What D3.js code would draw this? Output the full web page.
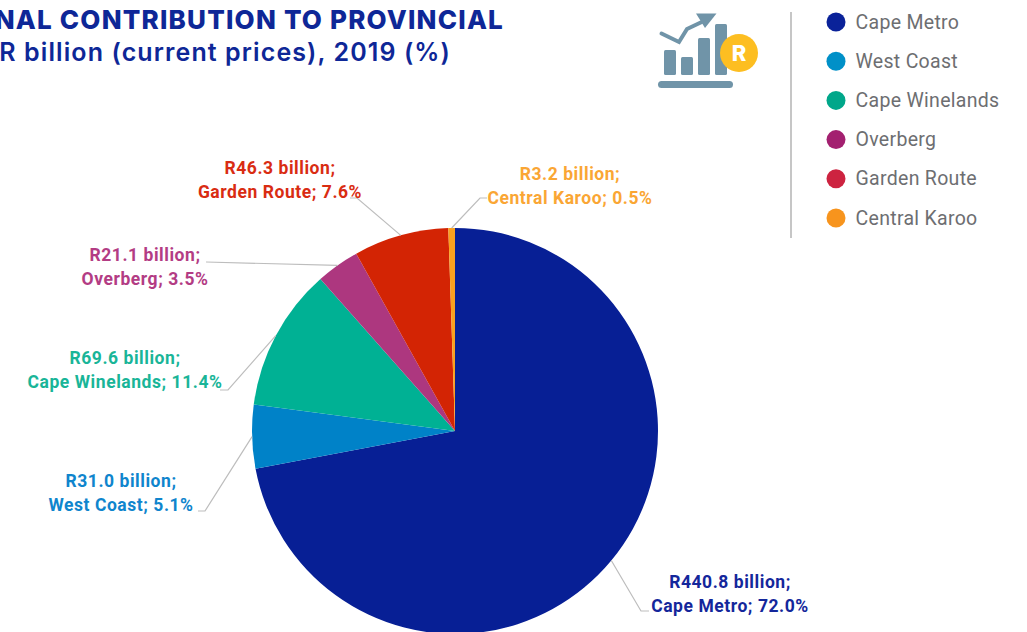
<!DOCTYPE html>
<html>
<head>
<meta charset="utf-8">
<script src="https://cdn.jsdelivr.net/npm/d3@7"></script>
<style>
  html, body { margin: 0; padding: 0; background: #fff; overflow: hidden; }
  svg { display: block; }
  text { font-family: Roboto, sans-serif; }
  .title { font-family: Inter, sans-serif; fill: #0e2797; }
  .label { font-weight: 700; font-size: 17.5px; letter-spacing: .55px; text-anchor: middle; }
  .legend-text { font-size: 19.5px; fill: #6d6e71; letter-spacing: .3px; }
</style>
</head>
<body>
<svg id="chart" width="1027" height="632"></svg>
<script>
'use strict';

const regions = ['Cape Metro', 'West Coast', 'Cape Winelands', 'Overberg', 'Garden Route', 'Central Karoo'];
const values = [440.8, 31.0, 69.6, 21.1, 46.3, 3.2];
const valueLabels = ['R440.8 billion;', 'R31.0 billion;', 'R69.6 billion;', 'R21.1 billion;', 'R46.3 billion;', 'R3.2 billion;'];
const shares = ['72.0%', '5.1%', '11.4%', '3.5%', '7.6%', '0.5%'];

const sliceColors = ['#071f95', '#0082c8', '#00b194', '#ad377f', '#d32404', '#f9a11f'];
const legendColors = ['#0a2299', '#0090c8', '#00a78a', '#a32070', '#cd2340', '#f7941d'];
const labelColors = ['#14279b', '#0f85cd', '#19b598', '#b33c84', '#d92c12', '#faa634'];

// label centre + baseline of the first line, then where the leader line ends
const labelPos = [[730, 588], [121, 487], [125, 364], [145, 261], [280, 174], [570, 180]];
const leaderEnds = [
  [[641, 611], [649, 611]],
  [[205, 511], [198, 511]],
  [[228, 390], [220, 390]],
  [[206, 262]],
  [[357, 198], [350, 198]],
  [[480, 198], [487, 198]]
];

const svg = d3.select('#chart');
const cx = 455, cy = 431, radius = 203;

// title (cropped on the left in the source)
svg.append('text').attr('class', 'title')
  .attr('x', 504).attr('y', 29)
  .attr('text-anchor', 'end')
  .style('font-weight', 800).style('font-size', '26px').style('letter-spacing', '1.2px')
  .text('NAL CONTRIBUTION TO PROVINCIAL');
svg.append('text').attr('class', 'title')
  .attr('x', 451).attr('y', 61)
  .attr('text-anchor', 'end')
  .style('font-weight', 600).style('font-size', '25px').style('letter-spacing', '1.1px')
  .text('R billion (current prices), 2019 (%)');

// pie
const pie = d3.pie().sort(null).value(d => d);
const arcs = pie(values);
const arc = d3.arc().innerRadius(0).outerRadius(radius);
const edgeArc = d3.arc().innerRadius(radius).outerRadius(radius);

const g = svg.append('g').attr('transform', `translate(${cx},${cy})`);
g.selectAll('path')
  .data(arcs)
  .join('path')
  .attr('d', arc)
  .attr('fill', (d, i) => sliceColors[i]);

// leader lines run from the middle of each slice's outer edge
const line = d3.line();
svg.append('g').selectAll('path')
  .data(arcs)
  .join('path')
  .attr('fill', 'none')
  .attr('stroke', '#bdbdbd')
  .attr('stroke-width', 1.2)
  .attr('d', (d, i) => {
    const c = edgeArc.centroid(d);
    return line([[cx + c[0], cy + c[1]]].concat(leaderEnds[i]));
  });

// slice labels
const labels = svg.append('g').selectAll('text')
  .data(regions)
  .join('text')
  .attr('class', 'label')
  .attr('fill', (d, i) => labelColors[i]);
labels.append('tspan')
  .attr('x', (d, i) => labelPos[i][0])
  .attr('y', (d, i) => labelPos[i][1])
  .text((d, i) => valueLabels[i]);
labels.append('tspan')
  .attr('x', (d, i) => labelPos[i][0])
  .attr('y', (d, i) => labelPos[i][1] + 24)
  .text((d, i) => d + '; ' + shares[i]);

// legend
const legendY = d3.scalePoint().domain(regions).range([22, 218]);
const legend = svg.append('g').selectAll('g')
  .data(regions)
  .join('g')
  .attr('transform', d => `translate(836,${legendY(d)})`);
legend.append('circle').attr('r', 9.5).attr('fill', (d, i) => legendColors[i]);
legend.append('text').attr('class', 'legend-text')
  .attr('x', 19.5).attr('y', 6.5)
  .text(d => d);

svg.append('line')
  .attr('x1', 791).attr('x2', 791)
  .attr('y1', 12).attr('y2', 238)
  .attr('stroke', '#b3b3b3').attr('stroke-width', 1.5);

// icon
const icon = svg.append('g').attr('fill', '#7094a8');
[[664, 50, 12, 25], [681, 57, 12, 18], [698, 38, 12, 37], [715, 24, 12, 51]].forEach(b => {
  icon.append('rect').attr('x', b[0]).attr('y', b[1]).attr('width', b[2]).attr('height', b[3]).attr('rx', 1.5);
});
icon.append('rect').attr('x', 658).attr('y', 81).attr('width', 75).attr('height', 7).attr('rx', 3.5);
icon.append('path')
  .attr('d', 'M661.5 33.5L679 42L687 29L706 20')
  .attr('fill', 'none').attr('stroke', '#7094a8').attr('stroke-width', 4).attr('stroke-linecap', 'round');
icon.append('path').attr('d', 'M696 13.5L716.5 13.5L705 28Z');
svg.append('circle').attr('cx', 739).attr('cy', 53).attr('r', 19).attr('fill', '#fdbe21');
svg.append('text')
  .attr('x', 739).attr('y', 61)
  .attr('text-anchor', 'middle')
  .attr('fill', '#fff')
  .style('font-family', 'Inter, sans-serif')
  .style('font-weight', 800).style('font-size', '22px')
  .text('R');
</script>
</body>
</html>
